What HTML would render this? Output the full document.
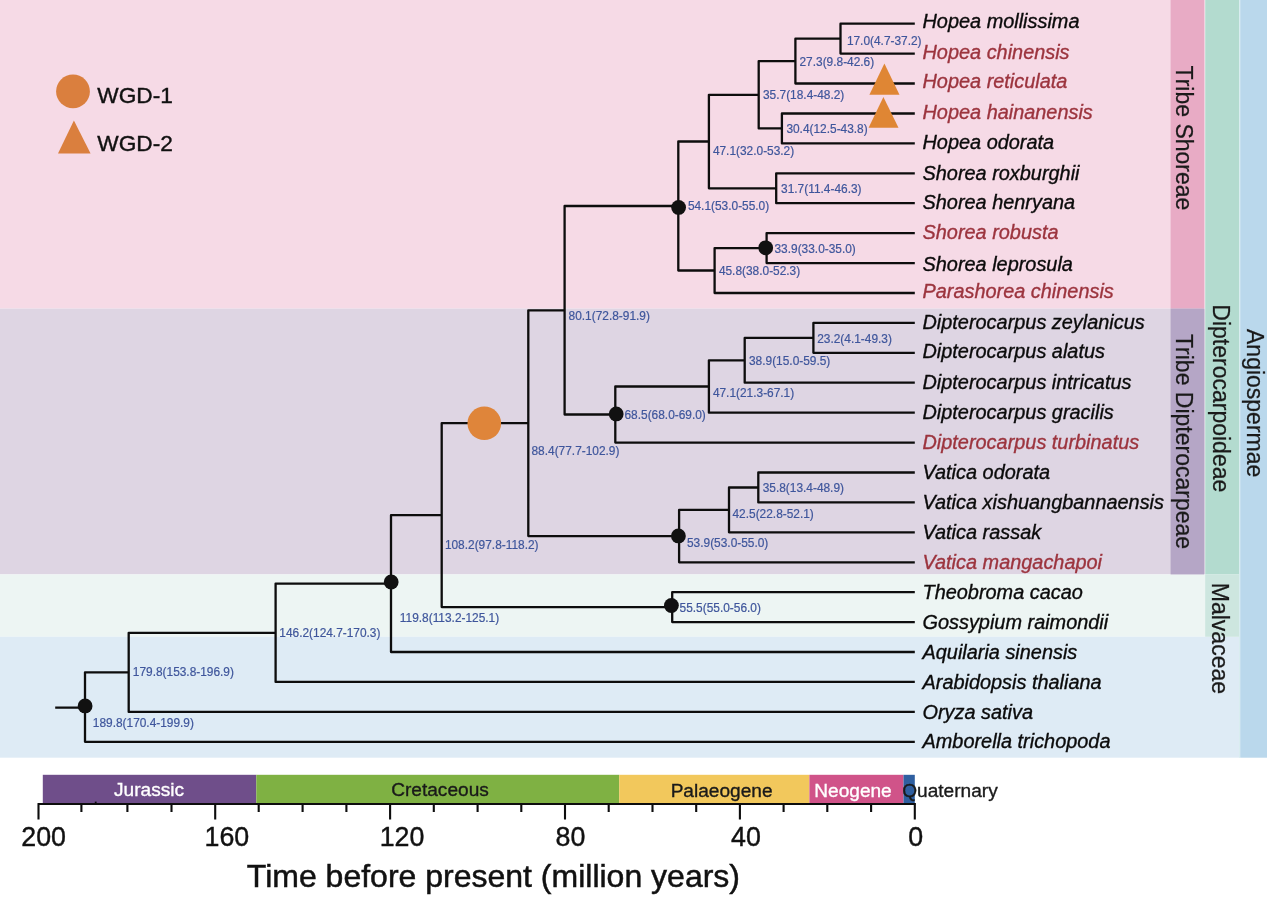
<!DOCTYPE html>
<html lang="en"><head><meta charset="utf-8"><title>Dipterocarpaceae dated phylogeny</title>
<style>
html,body{margin:0;padding:0;background:#fff;}
body{width:1267px;height:905px;overflow:hidden;font-family:"Liberation Sans",Arial,Helvetica,sans-serif;}
svg{display:block;}
text{font-family:"Liberation Sans",Arial,Helvetica,sans-serif;}
.sp{font-style:italic;font-size:19.9px;fill:#0b0b0b;stroke:#0b0b0b;stroke-width:.35px;}
.red{fill:#9C343E;stroke:#9C343E;}
.nl{font-size:11.9px;fill:#3F569C;stroke:#3F569C;stroke-width:.2px;}
.tree{fill:none;stroke:#0d0d0d;stroke-width:2.3;stroke-linejoin:round;stroke-linecap:butt;}
.grp{font-size:23px;fill:#1a1a1a;stroke:#1a1a1a;stroke-width:.25px;}
.geo{font-size:19.1px;fill:#1a1a1a;stroke:#1a1a1a;stroke-width:.35px;}
.tick{font-size:26.8px;fill:#111;stroke:#111;stroke-width:.4px;}
.ttl{font-size:32px;fill:#111;stroke:#111;stroke-width:.5px;}
.leg{font-size:22.7px;fill:#111;stroke:#111;stroke-width:.4px;}
</style></head><body>
<svg width="1267" height="905" viewBox="0 0 1267 905">

<rect x="0" y="0" width="1267" height="905" fill="#ffffff"/>
<rect x="0" y="0" width="1205" height="308.6" fill="#F6DAE6"/>
<rect x="0" y="308.6" width="1205" height="265.8" fill="#DED5E3"/>
<rect x="0" y="574.4" width="1240" height="62.3" fill="#EDF5F3"/>
<rect x="0" y="636.7" width="1240" height="121" fill="#DEEBF5"/>
<rect x="1170.6" y="0" width="33.6" height="308.6" fill="#E8ABC5"/>
<rect x="1170.6" y="308.6" width="33.6" height="265.8" fill="#B5A6C6"/>
<rect x="1205.2" y="0" width="33.8" height="574.4" fill="#B3DBCF"/>
<rect x="1205.2" y="574.4" width="33.8" height="62.3" fill="#CDE6DF"/>
<rect x="1239" y="0" width="1.2" height="757.7" fill="#D9EDF0"/>
<rect x="1240.2" y="0" width="26.8" height="757.7" fill="#BAD8EC"/>
<text class="grp" transform="translate(1175.6 65.5) rotate(90)">Tribe Shoreae</text>
<text class="grp" transform="translate(1175.6 333.9) rotate(90)">Tribe Dipterocarpeae</text>
<text class="grp" transform="translate(1213.2 304.3) rotate(90)">Dipterocarpoideae</text>
<text class="grp" transform="translate(1212.4 582.8) rotate(90)">Malvaceae</text>
<text class="grp" transform="translate(1246.5 329) rotate(90)">Angiospermae</text>
<path class="tree" d="M914.8 23.7H840.5V53.6H914.8 M840.5 38.7H795.4V83.5H914.8 M914.8 113.5H781.9V143.4H914.8 M795.4 61.1H758.7V128.4H781.9 M914.8 173.3H776.2V203.2H914.8 M758.7 94.8H708.9V188.3H776.2 M914.8 233.1H766.6V263.1H914.8 M766.6 248.1H714.6V293.0H914.8 M708.9 141.5H678.3V270.5H714.6 M914.8 322.9H813.4V352.8H914.8 M813.4 337.9H744.7V382.7H914.8 M744.7 360.3H708.9V412.7H914.8 M708.9 386.5H615.3V442.6H914.8 M678.3 206.0H564.6V414.5H615.3 M914.8 472.5H758.3V502.4H914.8 M758.3 487.5H729.0V532.3H914.8 M729.0 509.9H679.1V562.3H914.8 M564.6 310.3H528.3V536.1H679.1 M914.8 592.2H672.2V622.1H914.8 M528.3 423.2H441.7V607.1H672.2 M441.7 515.2H391.0V652.0H914.8 M391.0 583.6H275.6V681.9H914.8 M275.6 632.8H128.7V711.9H914.8 M128.7 672.3H85.0V741.8H914.8 M55.2 707.6H85.0"/>
<circle cx="765.7" cy="247.8" r="7.4" fill="#111"/>
<circle cx="678.6" cy="207.4" r="7.4" fill="#111"/>
<circle cx="616.2" cy="413.9" r="7.4" fill="#111"/>
<circle cx="678.4" cy="535.9" r="7.4" fill="#111"/>
<circle cx="671.4" cy="605.5" r="7.4" fill="#111"/>
<circle cx="391.2" cy="582.0" r="7.4" fill="#111"/>
<circle cx="85.1" cy="705.9" r="7.4" fill="#111"/>
<circle cx="484.3" cy="423.3" r="16.8" fill="#DF853A"/>
<path d="M884.4 63.6L899.5 94.8H869.4Z" fill="#DF8634"/>
<path d="M883.4 97.1L898.5 127.8H868.6Z" fill="#DF8634"/>
<circle cx="73" cy="91.4" r="16.9" fill="#DA7F3E"/>
<path d="M73.9 120.6L90.6 153.5H58Z" fill="#DA7F3E"/>
<text class="leg" x="97.3" y="103.3">WGD-1</text>
<text class="leg" x="97.3" y="150.9">WGD-2</text>
<text class="nl" x="846.9" y="44.8">17.0(4.7-37.2)</text>
<text class="nl" x="799.5" y="66.1">27.3(9.8-42.6)</text>
<text class="nl" x="786.4" y="133.0">30.4(12.5-43.8)</text>
<text class="nl" x="763.0" y="99.1">35.7(18.4-48.2)</text>
<text class="nl" x="781.1" y="192.7">31.7(11.4-46.3)</text>
<text class="nl" x="712.9" y="154.8">47.1(32.0-53.2)</text>
<text class="nl" x="774.5" y="253.1">33.9(33.0-35.0)</text>
<text class="nl" x="718.9" y="275.4">45.8(38.0-52.3)</text>
<text class="nl" x="687.9" y="210.4">54.1(53.0-55.0)</text>
<text class="nl" x="817.2" y="342.9">23.2(4.1-49.3)</text>
<text class="nl" x="749.0" y="365.2">38.9(15.0-59.5)</text>
<text class="nl" x="712.9" y="396.7">47.1(21.3-67.1)</text>
<text class="nl" x="624.5" y="419.0">68.5(68.0-69.0)</text>
<text class="nl" x="568.6" y="319.9">80.1(72.8-91.9)</text>
<text class="nl" x="762.7" y="492.0">35.8(13.4-48.9)</text>
<text class="nl" x="732.5" y="517.6">42.5(22.8-52.1)</text>
<text class="nl" x="687.0" y="547.0">53.9(53.0-55.0)</text>
<text class="nl" x="531.5" y="455.2">88.4(77.7-102.9)</text>
<text class="nl" x="679.6" y="612.0">55.5(55.0-56.0)</text>
<text class="nl" x="444.9" y="549.1">108.2(97.8-118.2)</text>
<text class="nl" x="399.8" y="622.4">119.8(113.2-125.1)</text>
<text class="nl" x="279.3" y="637.0">146.2(124.7-170.3)</text>
<text class="nl" x="132.8" y="676.2">179.8(153.8-196.9)</text>
<text class="nl" x="92.8" y="726.6">189.8(170.4-199.9)</text>
<text class="sp" x="922.5" y="27.6">Hopea mollissima</text>
<text class="sp red" x="922.5" y="59.0">Hopea chinensis</text>
<text class="sp red" x="922.5" y="88.4">Hopea reticulata</text>
<text class="sp red" x="922.5" y="118.7">Hopea hainanensis</text>
<text class="sp" x="922.5" y="148.7">Hopea odorata</text>
<text class="sp" x="922.5" y="180.4">Shorea roxburghii</text>
<text class="sp" x="922.5" y="209.3">Shorea henryana</text>
<text class="sp red" x="922.5" y="238.5">Shorea robusta</text>
<text class="sp" x="922.5" y="270.7">Shorea leprosula</text>
<text class="sp red" x="922.5" y="298.2">Parashorea chinensis</text>
<text class="sp" x="922.5" y="329.4">Dipterocarpus zeylanicus</text>
<text class="sp" x="922.5" y="358.4">Dipterocarpus alatus</text>
<text class="sp" x="922.5" y="388.6">Dipterocarpus intricatus</text>
<text class="sp" x="922.5" y="418.9">Dipterocarpus gracilis</text>
<text class="sp red" x="922.5" y="448.7">Dipterocarpus turbinatus</text>
<text class="sp" x="922.5" y="478.9">Vatica odorata</text>
<text class="sp" x="922.5" y="509.3">Vatica xishuangbannaensis</text>
<text class="sp" x="922.5" y="539.1">Vatica rassak</text>
<text class="sp red" x="922.5" y="569.4">Vatica mangachapoi</text>
<text class="sp" x="922.5" y="599.0">Theobroma cacao</text>
<text class="sp" x="922.5" y="628.6">Gossypium raimondii</text>
<text class="sp" x="922.5" y="659.0">Aquilaria sinensis</text>
<text class="sp" x="922.5" y="688.8">Arabidopsis thaliana</text>
<text class="sp" x="922.5" y="718.5">Oryza sativa</text>
<text class="sp" x="922.5" y="748.3">Amborella trichopoda</text>
<rect x="42.8" y="774.8" width="213.5" height="28.4" fill="#6F4E8A"/>
<rect x="256.3" y="774.8" width="362.9" height="28.4" fill="#7FB143"/>
<rect x="619.2" y="774.8" width="190.2" height="28.4" fill="#F2C85C"/>
<rect x="809.4" y="774.8" width="94.1" height="28.4" fill="#D05389"/>
<rect x="903.5" y="774.8" width="11.3" height="28.4" fill="#2F5FA0"/>
<text class="geo" x="149" y="796.2" text-anchor="middle" fill="#fff" style="fill:#fff;stroke:#fff">Jurassic</text>
<text class="geo" x="440" y="795.9" text-anchor="middle">Cretaceous</text>
<text class="geo" x="721.6" y="796.8" text-anchor="middle">Palaeogene</text>
<text class="geo" x="853" y="796.8" text-anchor="middle" style="fill:#fff;stroke:#fff">Neogene</text>
<text class="geo" x="902.2" y="796.8">Quaternary</text>
<path d="M37.5 804H915.9 M914.8 804V819.6 M871.1 804V811.9 M827.3 804V811.9 M783.6 804V811.9 M739.9 804V819.6 M696.2 804V811.9 M652.5 804V811.9 M608.7 804V811.9 M565.0 804V819.6 M521.3 804V811.9 M477.6 804V811.9 M433.8 804V811.9 M390.1 804V819.6 M346.4 804V811.9 M302.6 804V811.9 M258.7 804V811.9 M215.2 804V819.6 M171.5 804V811.9 M127.4 804V811.9 M81.4 804V811.9 M38.5 804V819.6" fill="none" stroke="#0d0d0d" stroke-width="2.1"/>
<text class="tick" x="21.3" y="845.5">200</text>
<text class="tick" x="204.5" y="845.5">160</text>
<text class="tick" x="379.7" y="845.5">120</text>
<text class="tick" x="555.6" y="845.5">80</text>
<text class="tick" x="731.1" y="845.5">40</text>
<text class="tick" x="908.3" y="845.5">0</text>
<rect x="94.8" y="801.6" width="1.8" height="2" fill="#0d0d0d"/>
<text class="ttl" x="246.8" y="886.7">Time before present (million years)</text>
</svg></body></html>
